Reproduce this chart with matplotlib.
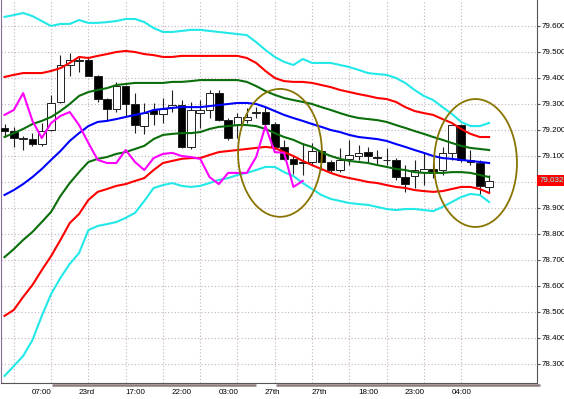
import matplotlib
matplotlib.use('Agg')
import matplotlib.pyplot as plt
from matplotlib.patches import Ellipse, Rectangle
from matplotlib.lines import Line2D
import matplotlib.transforms as mtrans

# ---------------- data ----------------
opens = [79.205, 79.196, 79.164, 79.164, 79.144, 79.199, 79.308, 79.449, 79.464, 79.468,
         79.408, 79.318, 79.280, 79.368, 79.299, 79.214, 79.276, 79.260, 79.287, 79.295,
         79.134, 79.264, 79.276, 79.341, 79.237, 79.218, 79.237, 79.264, 79.268, 79.222,
         79.134, 79.088, 79.072, 79.076, 79.118, 79.076, 79.045, 79.088, 79.099, 79.114,
         79.095, 79.084, 79.084, 79.018, 79.022, 79.038, 79.049, 79.045, 79.111, 79.218,
         79.084, 79.072, 78.980]
highs = [79.222, 79.211, 79.176, 79.187, 79.226, 79.334, 79.488, 79.495, 79.480, 79.476,
         79.411, 79.322, 79.384, 79.372, 79.341, 79.303, 79.303, 79.322, 79.353, 79.314,
         79.307, 79.314, 79.353, 79.353, 79.245, 79.264, 79.283, 79.287, 79.287, 79.230,
         79.161, 79.099, 79.149, 79.149, 79.122, 79.084, 79.130, 79.161, 79.141, 79.134,
         79.122, 79.130, 79.091, 79.064, 79.084, 79.111, 79.072, 79.134, 79.218, 79.222,
         79.122, 79.084, 79.026]
lows = [79.172, 79.134, 79.122, 79.138, 79.138, 79.195, 79.303, 79.407, 79.422, 79.407,
        79.307, 79.237, 79.268, 79.249, 79.187, 79.184, 79.218, 79.226, 79.268, 79.130,
        79.126, 79.207, 79.245, 79.234, 79.161, 79.168, 79.226, 79.245, 79.214, 79.126,
        79.084, 79.030, 79.026, 79.064, 79.045, 79.038, 79.038, 79.064, 79.084, 79.076,
        79.064, 79.064, 79.007, 78.961, 78.976, 78.988, 79.015, 79.026, 79.084, 79.076,
        79.064, 78.949, 78.957]
closes = [79.195, 79.167, 79.168, 79.144, 79.196, 79.304, 79.449, 79.468, 79.468, 79.408,
          79.317, 79.280, 79.368, 79.299, 79.218, 79.264, 79.260, 79.280, 79.295, 79.134,
          79.276, 79.276, 79.341, 79.237, 79.168, 79.249, 79.249, 79.268, 79.222, 79.134,
          79.088, 79.068, 79.076, 79.118, 79.076, 79.045, 79.084, 79.103, 79.111, 79.099,
          79.091, 79.082, 79.018, 78.991, 79.045, 79.049, 79.034, 79.111, 79.218, 79.084,
          79.076, 78.984, 79.003]

bb_mid = [78.949, 78.968, 78.991, 79.018, 79.049, 79.084, 79.118, 79.157, 79.187, 79.214,
          79.230, 79.234, 79.241, 79.249, 79.257, 79.264, 79.276, 79.280, 79.284, 79.287,
          79.287, 79.287, 79.291, 79.295, 79.299, 79.303, 79.303, 79.299, 79.287, 79.272,
          79.257, 79.245, 79.234, 79.222, 79.211, 79.199, 79.191, 79.180, 79.172, 79.168,
          79.164, 79.157, 79.145, 79.134, 79.122, 79.111, 79.099, 79.091, 79.088, 79.084,
          79.080, 79.076, 79.072]
bb_up1 = [79.172, 79.187, 79.203, 79.222, 79.234, 79.249, 79.272, 79.299, 79.330, 79.345,
          79.353, 79.360, 79.372, 79.376, 79.380, 79.380, 79.380, 79.380, 79.384, 79.384,
          79.387, 79.391, 79.391, 79.391, 79.391, 79.391, 79.384, 79.368, 79.349, 79.334,
          79.322, 79.314, 79.307, 79.299, 79.287, 79.276, 79.264, 79.253, 79.245, 79.241,
          79.237, 79.230, 79.218, 79.207, 79.195, 79.184, 79.172, 79.161, 79.149, 79.138,
          79.130, 79.126, 79.122]
bb_dn1 = [78.710, 78.741, 78.776, 78.807, 78.845, 78.884, 78.945, 78.995, 79.037, 79.076,
          79.088, 79.095, 79.107, 79.114, 79.126, 79.138, 79.164, 79.180, 79.184, 79.187,
          79.187, 79.191, 79.203, 79.211, 79.214, 79.218, 79.218, 79.214, 79.203, 79.187,
          79.172, 79.161, 79.145, 79.134, 79.114, 79.099, 79.088, 79.080, 79.076, 79.072,
          79.064, 79.057, 79.049, 79.045, 79.037, 79.034, 79.034, 79.034, 79.037, 79.037,
          79.034, 79.026, 79.018]
bb_up2 = [79.403, 79.411, 79.418, 79.418, 79.418, 79.426, 79.437, 79.457, 79.480, 79.476,
          79.484, 79.491, 79.499, 79.503, 79.499, 79.491, 79.487, 79.480, 79.480, 79.484,
          79.484, 79.484, 79.484, 79.484, 79.484, 79.484, 79.476, 79.457, 79.426, 79.399,
          79.387, 79.384, 79.384, 79.380, 79.372, 79.364, 79.353, 79.345, 79.337, 79.330,
          79.322, 79.318, 79.307, 79.287, 79.272, 79.264, 79.257, 79.241, 79.226, 79.203,
          79.184, 79.172, 79.172]
bb_dn2 = [78.484, 78.507, 78.557, 78.603, 78.660, 78.714, 78.776, 78.841, 78.876, 78.930,
          78.961, 78.972, 78.984, 78.991, 79.003, 79.014, 79.045, 79.072, 79.080, 79.088,
          79.091, 79.091, 79.103, 79.114, 79.118, 79.122, 79.126, 79.130, 79.134, 79.130,
          79.114, 79.099, 79.080, 79.064, 79.049, 79.034, 79.022, 79.014, 79.007, 78.999,
          78.995, 78.987, 78.980, 78.976, 78.968, 78.964, 78.961, 78.964, 78.972, 78.980,
          78.980, 78.972, 78.957]
bb_up3 = [79.634, 79.641, 79.649, 79.637, 79.618, 79.599, 79.607, 79.607, 79.622, 79.611,
          79.611, 79.614, 79.618, 79.626, 79.626, 79.614, 79.591, 79.576, 79.576, 79.580,
          79.584, 79.584, 79.580, 79.576, 79.572, 79.568, 79.564, 79.537, 79.507, 79.480,
          79.461, 79.449, 79.472, 79.457, 79.457, 79.457, 79.449, 79.441, 79.430, 79.418,
          79.414, 79.411, 79.399, 79.380, 79.353, 79.330, 79.314, 79.287, 79.261, 79.230,
          79.214, 79.214, 79.226]
bb_dn3 = [78.253, 78.291, 78.330, 78.391, 78.484, 78.568, 78.630, 78.684, 78.726, 78.814,
          78.830, 78.837, 78.845, 78.861, 78.880, 78.926, 78.976, 78.987, 78.995, 78.984,
          78.980, 78.984, 78.995, 79.007, 79.014, 79.026, 79.034, 79.045, 79.057, 79.057,
          79.037, 79.022, 78.995, 78.972, 78.949, 78.934, 78.926, 78.918, 78.914, 78.911,
          78.903, 78.895, 78.891, 78.895, 78.895, 78.891, 78.887, 78.903, 78.922, 78.941,
          78.953, 78.949, 78.922]
lagging = [79.257, 79.276, 79.341, 79.234, 79.168, 79.226, 79.253, 79.268, 79.218, 79.149,
           79.084, 79.072, 79.072, 79.122, 79.076, 79.045, 79.091, 79.107, 79.111, 79.099,
           79.095, 79.088, 79.018, 78.991, 79.034, 79.034, 79.034, 79.095, 79.214, 79.114,
           79.111, 78.980, 79.003]

y_ticks = [79.6, 79.5, 79.4, 79.3, 79.2, 79.1, 79.0, 78.9, 78.8, 78.7, 78.6, 78.5, 78.4, 78.3]
x_labels = ['07:00', '23rd', '17:00', '22:00', '03:00', '27th', '27th', '18:00', '23:00', '04:00']
last_price_text = '79.032'

# ---------------- figure ----------------
W, H = 564, 399
fig = plt.figure(figsize=(W / 100, H / 100), dpi=100)
fig.patch.set_facecolor('white')
ax = fig.add_axes([0.5 / W, (H - 382.7) / H, 536.5 / W, 382.7 / H])
ax.set_facecolor('white')

n = len(opens)
ax.set_xlim(-0.43, 57.14)
ax.set_ylim(78.227, 79.699)

FONT = ['Liberation Sans Narrow', 'Liberation Sans', 'DejaVu Sans']

# grid
grid_col = '#c4b0c4'
ax.set_xticks(range(1, n, 4))
ax.set_yticks(y_ticks)
ax.grid(True, color=grid_col, linestyle=(0, (1, 2)), linewidth=0.8)
ax.set_axisbelow(True)

# Bollinger-type bands
xs = list(range(n))
lw = 1.5
ax.plot(xs, bb_up3, color='#22e8e8', lw=lw, zorder=4)
ax.plot(xs, bb_dn3, color='#22e8e8', lw=lw, zorder=4)
ax.plot(xs, bb_up2, color='#ff0000', lw=lw, zorder=4)
ax.plot(xs, bb_dn2, color='#ff0000', lw=lw, zorder=4)
ax.plot(xs, bb_up1, color='#0a6e0a', lw=lw, zorder=4)
ax.plot(xs, bb_dn1, color='#0a6e0a', lw=lw, zorder=4)
ax.plot(xs, bb_mid, color='#0000ff', lw=lw, zorder=4)
ax.plot(range(len(lagging)), lagging, color='#ff00ff', lw=lw, zorder=4)

# candles
bw = 0.82
for i in range(n):
    o, h, l, c = opens[i], highs[i], lows[i], closes[i]
    ax.vlines(i, l, h, color='#202020', lw=0.8, zorder=3)
    bull = c >= o
    bottom = min(o, c)
    height = max(abs(c - o), 0.0005)
    ax.add_patch(Rectangle((i - bw / 2, bottom), bw, height,
                           facecolor='white' if bull else 'black',
                           edgecolor='#202020', lw=0.7, zorder=3.5))

# ellipses
ell_col = '#887400'
ax.add_patch(Ellipse((29.56, 79.111), 9.0, 0.492, fill=False,
                     edgecolor=ell_col, lw=1.3, zorder=5))
ax.add_patch(Ellipse((50.54, 79.072), 8.9, 0.492, fill=False,
                     edgecolor=ell_col, lw=1.3, zorder=5))

# axes styling
ax.spines['top'].set_visible(False)
ax.spines['left'].set_color('#8a6a9a')
ax.spines['right'].set_color('#555555')
ax.spines['bottom'].set_color('#555555')

ax.yaxis.tick_right()
# the 79.000 label sits under the last-price box in the reference
ax.set_yticklabels(['' if abs(v - 79.0) < 1e-9 else '%.3f' % v for v in y_ticks])
ax.tick_params(axis='y', length=2, pad=1, labelsize=5.8, colors='black',
               color='#555555')
for t in ax.get_yticklabels():
    t.set_fontfamily(FONT)
ax.tick_params(axis='x', length=0, labelbottom=False)

# x labels
trans_x = mtrans.blended_transform_factory(ax.transData, fig.transFigure)
for i, lab in enumerate(x_labels):
    ax.text(2.95 + 5.0 * i, 1 - 393 / H, lab, transform=trans_x, ha='left',
            va='center', fontsize=5.8, color='black', clip_on=False, family=FONT)

# separator bars under the axis
for x0, x1 in [(52, 256), (276, 540)]:
    fig.add_artist(Line2D([x0 / W, x1 / W], [1 - 385 / H, 1 - 385 / H],
                          color='#8c7c7c', lw=1.8, solid_capstyle='butt'))

# last price label
trans_p = mtrans.blended_transform_factory(ax.transAxes, ax.transData)
ax.text(1.004, closes[-1], last_price_text, transform=trans_p, ha='left', va='center',
        fontsize=5.8, color='#80ffff', clip_on=False, zorder=10, family=FONT,
        bbox=dict(boxstyle='square,pad=0.25', facecolor='#ff0000', edgecolor='none'))

fig.savefig('out.png', dpi=100)
